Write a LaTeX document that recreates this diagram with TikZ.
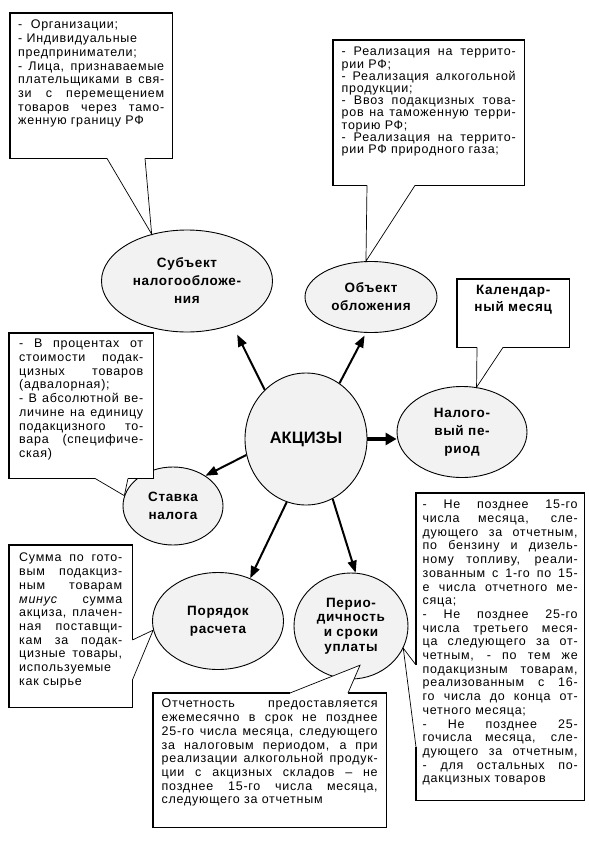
\documentclass[tikz,border=0pt]{standalone}
\usepackage{fontspec}
\setmainfont{Liberation Sans}
\usetikzlibrary{shapes.geometric,arrows.meta,calc}

\hyphenpenalty=10000
\exhyphenpenalty=10000
\newcommand{\notefont}{\fontsize{12.5}{13.7}\selectfont\addfontfeature{LetterSpace=6}}
\newcommand{\topicfont}{\fontsize{13.5}{18}\selectfont\bfseries\addfontfeature{LetterSpace=5}}
\newcommand{\notetext}[3]{\parbox[t][#2][t]{#1}{#3}}

\begin{document}
\begin{tikzpicture}[x=1pt, y=-1pt,
    topic/.style={ellipse, draw, line width=0.9pt, fill=gray!10, inner sep=0pt,
      align=center, font=\topicfont},
    note/.style={anchor=north west, fill=white, font=\notefont},
    frame/.style={line width=1.5pt},
    tail/.style={line width=0.7pt},
    arr/.style={-{Triangle[length=12pt,width=9pt]}, line width=2pt},
    bigarr/.style={-{Triangle[length=11pt,width=12pt]}, line width=3.5pt}]
  \useasboundingbox (0,0) rectangle (589,841);

  % ellipses
  \node[topic, minimum width=171pt, minimum height=102pt] (subject) at (187,281)
    {Субъект\\налогообложе-\\ния};
  \node[topic, minimum width=132pt, minimum height=71pt] (object) at (371,297)
    {Объект\\обложения};
  \node[topic, minimum width=130pt, minimum height=91pt] (period) at (462,432)
    {Налого-\\вый пе-\\риод};
  \node[topic, minimum width=122pt, minimum height=132pt,
        font=\fontsize{16.5}{18}\selectfont\bfseries] (excise) at (306,439) {АКЦИЗЫ};
  \node[topic, minimum width=100pt, minimum height=78pt] (rate) at (173,506)
    {Ставка\\налога};
  \node[topic, minimum width=131pt, minimum height=97pt] (order) at (218,621)
    {Порядок\\расчета};
  \node[topic, minimum width=114pt, minimum height=106pt,
        font=\topicfont\fontsize{13.5}{14.7}\selectfont] (payment) at (351,626)
    {Перио-\\дичность\\и сроки\\уплаты};

  % arrows
  \draw[arr, shorten >=11pt] (excise.130) -- (subject.-44);
  \draw[arr, shorten >=3pt] (excise.59) -- (object.-98);
  \draw[bigarr] (excise.east) -- (excise.east -| period.west);
  \draw[arr] (excise.195) -- (rate.43);
  \draw[arr] (excise.253) -- (order.53);
  \draw[arr] (excise.294) -- (payment.85);

  % notes
  \node[note, inner xsep=8pt, inner ysep=7pt] (subjectNote) at (10,13)
    {\notetext{146pt}{131pt}{-\ \ Организации;\\
     - Индивидуальные\newline предприниматели;\\
     - Лица, признаваемые\linebreak плательщиками в свя-\linebreak
     зи с перемещением\linebreak товаров через тамо-\linebreak женную границу РФ}};
  \node[note, inner xsep=8.5pt, inner ysep=7pt,
        font=\notefont\fontsize{12.5}{12.2}\selectfont]
    (objectNote) at (333,40)
    {\notetext{174pt}{131pt}{- Реализация на террито-\linebreak рии РФ;\\
     - Реализация алкогольной\linebreak продукции;\\
     - Ввоз подакцизных това-\linebreak ров на таможенную терри-\linebreak торию РФ;\\
     - Реализация на террито-\linebreak рии РФ природного газа;}};
  \node[note, inner xsep=7pt, inner ysep=6pt, font=\topicfont\fontsize{13.5}{17}\selectfont]
    (periodNote) at (457,279)
    {\notetext{98pt}{56pt}{\centering Календар-\\ный месяц}};
  \node[note, inner xsep=10pt, inner ysep=6pt] (rateNote) at (9,333)
    {\notetext{124pt}{133pt}{- В процентах от\linebreak стоимости подак-\linebreak
     цизных товаров\linebreak (адвалорная);\\
     - В абсолютной ве-\linebreak личине на единицу\linebreak подакцизного то-\linebreak
     вара (специфиче-\linebreak ская)}};
  \node[note, inner xsep=10pt, inner ysep=8pt] (orderNote) at (9,545)
    {\notetext{103pt}{146pt}{Сумма по гото-\linebreak вым подакциз-\linebreak
     ным товарам\linebreak \textit{минус} сумма\linebreak акциза, плачен-\linebreak
     ная поставщи-\linebreak кам за подак-\linebreak цизные товары,\linebreak
     используемые\newline как сырье}};
  \node[note, inner xsep=8.5pt, inner ysep=6pt] (reportNote) at (153,693)
    {\notetext{216pt}{122pt}{Отчетность предоставляется\linebreak
     ежемесячно в срок не позднее\linebreak 25-го числа месяца, следующего\linebreak
     за налоговым периодом, а при\linebreak реализации алкогольной продук-\linebreak
     ции с акцизных складов – не\linebreak позднее 15-го числа месяца,\linebreak
     следующего за отчетным}};
  \node[note, inner xsep=6.5pt, inner ysep=7pt] (paymentNote) at (416,493)
    {\notetext{155pt}{293pt}{- Не позднее 15-го\linebreak числа месяца, сле-\linebreak
     дующего за отчетным,\linebreak по бензину и дизель-\linebreak
     ному топливу, реали-\linebreak зованным с 1-го по 15-\linebreak
     е числа отчетного ме-\linebreak сяца;\\
     - Не позднее 25-го\linebreak числа третьего меся-\linebreak
     ца следующего за от-\linebreak четным, - по тем же\linebreak
     подакцизным товарам,\linebreak реализованным с 16-\linebreak
     го числа до конца от-\linebreak четного месяца;\\
     - Не позднее 25-\linebreak гочисла месяца, сле-\linebreak
     дующего за отчетным,\linebreak - для остальных по-\linebreak
     дакцизных товаров}};

  % callout frames with gaps
  \coordinate (sA) at ($(subjectNote.south west)+(97,0)$);
  \coordinate (sB) at ($(subjectNote.south west)+(135,0)$);
  \draw[frame] (sA) -- (subjectNote.south west) -- (subjectNote.north west)
    -- (subjectNote.north east) -- (subjectNote.south east) -- (sB);
  \fill[white] (sA) -- (subject.127) -- (sB) -- cycle;
  \draw[tail] (sA) -- (subject.127) -- (sB);

  \coordinate (oA) at ($(objectNote.south west)+(34,0)$);
  \coordinate (oB) at ($(objectNote.south west)+(82,0)$);
  \draw[frame] (oA) -- (objectNote.south west) -- (objectNote.north west)
    -- (objectNote.north east) -- (objectNote.south east) -- (oB);
  \fill[white] (oA) -- (object.98) -- (oB) -- cycle;
  \draw[tail] (oA) -- (object.98) -- (oB);

  \coordinate (pA) at ($(periodNote.south west)+(20,0)$);
  \coordinate (pB) at ($(periodNote.south west)+(46,0)$);
  \draw[frame] (pA) -- (periodNote.south west) -- (periodNote.north west)
    -- (periodNote.north east) -- (periodNote.south east) -- (pB);
  \fill[white] (pA) -- (period.72) -- (pB) -- cycle;
  \draw[tail] (pA) -- (period.72) -- (pB);

  \coordinate (rA) at ($(rateNote.south west)+(86,0)$);
  \coordinate (rB) at ($(rateNote.south west)+(119,0)$);
  \draw[frame] (rA) -- (rateNote.south west) -- (rateNote.north west)
    -- (rateNote.north east) -- (rateNote.south east) -- (rB);
  \fill[white] (rA) -- (rate.168) -- (rB) -- cycle;
  \draw[tail] (rA) -- (rate.168) -- (rB);

  \coordinate (cA) at ($(orderNote.north east)+(0,95)$);
  \coordinate (cB) at ($(orderNote.north east)+(0,135)$);
  \draw[frame] (cA) -- (orderNote.north east) -- (orderNote.north west)
    -- (orderNote.south west) -- (orderNote.south east) -- (cB);
  \fill[white] (cA) -- (order.188) -- (cB) -- cycle;
  \draw[tail] (cA) -- (order.188) -- (cB);

  \coordinate (tA) at ($(reportNote.north west)+(137,0)$);
  \coordinate (tB) at ($(reportNote.north west)+(195,0)$);
  \coordinate (tTip) at ($(payment.center)!0.75!(payment.-77)$);
  \draw[frame] (tA) -- (reportNote.north west) -- (reportNote.south west)
    -- (reportNote.south east) -- (reportNote.north east) -- (tB);
  \fill[white] (tA) -- (tTip) -- (tB) -- cycle;
  \draw[tail] (tA) -- (tTip) -- (tB);

  \coordinate (yA) at ($(paymentNote.north west)+(0,172)$);
  \coordinate (yB) at ($(paymentNote.north west)+(0,254)$);
  \draw[frame] (yA) -- (paymentNote.north west) -- (paymentNote.north east)
    -- (paymentNote.south east) -- (paymentNote.south west) -- (yB);
  \fill[white] (yA) -- (payment.-23) -- (yB) -- cycle;
  \draw[tail] (yA) -- (payment.-23) -- (yB);
\end{tikzpicture}
\end{document}
